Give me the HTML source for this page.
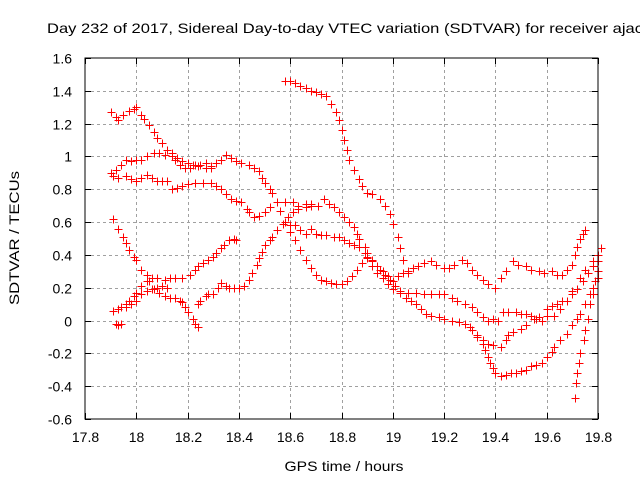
<!DOCTYPE html>
<html><head><meta charset="utf-8"><style>
body{margin:0;background:#fff;}
svg{display:block;font-family:"Liberation Sans",sans-serif;}
</style></head><body>
<svg id="chart" width="640" height="480" xmlns="http://www.w3.org/2000/svg">
<rect width="640" height="480" fill="#fff"/>
<text x="47" y="33" font-size="14" textLength="596" lengthAdjust="spacingAndGlyphs">Day 232 of 2017, Sidereal Day-to-day VTEC variation (SDTVAR) for receiver ajac</text>
<text transform="translate(19,238) rotate(-90)" text-anchor="middle" font-size="14" textLength="134" lengthAdjust="spacingAndGlyphs">SDTVAR / TECUs</text>
<text x="344" y="471" text-anchor="middle" font-size="14" textLength="119" lengthAdjust="spacingAndGlyphs">GPS time / hours</text>
<g id="grid"></g><g id="marks"></g>
<rect x="85" y="58" width="513" height="361" fill="none" stroke="#000" stroke-width="1"/>
</svg>
<script>
const xTicks=[17.8,18,18.2,18.4,18.6,18.8,19,19.2,19.4,19.6,19.8];
const xTickLabels=["17.8","18","18.2","18.4","18.6","18.8","19","19.2","19.4","19.6","19.8"];
const yTicks=[-0.6,-0.4,-0.2,0,0.2,0.4,0.6,0.8,1,1.2,1.4,1.6];
const yTickLabels=["-0.6","-0.4","-0.2","0","0.2","0.4","0.6","0.8","1","1.2","1.4","1.6"];
const trackA=[[17.90,1.27],[17.92,1.24],[17.93,1.22],[17.95,1.25],[17.97,1.28],[17.99,1.29],[18.00,1.30],[18.02,1.25],[18.03,1.23],[18.05,1.19],[18.07,1.15],[18.08,1.11],[18.10,1.08],[18.12,1.04],[18.14,1.00],[18.15,0.98],[18.17,0.95],[18.19,0.93],[18.21,0.93],[18.23,0.95],[18.25,0.95],[18.27,0.96],[18.29,0.94],[18.31,0.96]];
const trackB=[[17.90,0.90],[17.92,0.92],[17.94,0.95],[17.96,0.98],[17.98,0.97],[18.00,0.98],[18.02,0.98],[18.04,1.00],[18.07,1.02],[18.09,1.02],[18.11,1.01],[18.14,1.02],[18.16,0.99],[18.18,0.97],[18.20,0.96],[18.22,0.95],[18.24,0.94],[18.27,0.93],[18.29,0.93],[18.31,0.96],[18.33,0.98],[18.35,1.01],[18.37,0.99],[18.39,0.97],[18.41,0.96],[18.44,0.95],[18.46,0.93],[18.48,0.91],[18.49,0.87],[18.50,0.84],[18.52,0.80],[18.53,0.78],[18.55,0.72],[18.56,0.67],[18.58,0.60],[18.60,0.54],[18.62,0.49],[18.64,0.43],[18.66,0.37],[18.68,0.32],[18.70,0.28],[18.72,0.25],[18.74,0.24],[18.76,0.23],[18.78,0.22],[18.80,0.22],[18.82,0.24],[18.84,0.27],[18.86,0.31],[18.88,0.35],[18.90,0.38],[18.92,0.37],[18.94,0.33],[18.96,0.30],[18.98,0.27],[19.00,0.24],[19.02,0.27],[19.04,0.29],[19.06,0.30],[19.08,0.32],[19.10,0.33],[19.12,0.35],[19.15,0.36],[19.17,0.34],[19.20,0.32],[19.22,0.32],[19.24,0.34],[19.27,0.37],[19.29,0.35],[19.31,0.31],[19.33,0.28],[19.35,0.25],[19.37,0.22],[19.40,0.20],[19.42,0.26],[19.44,0.30],[19.47,0.36],[19.49,0.34],[19.52,0.33],[19.54,0.31],[19.57,0.30],[19.59,0.29],[19.62,0.30],[19.64,0.28],[19.66,0.28],[19.68,0.31],[19.70,0.34],[19.71,0.40],[19.72,0.45],[19.73,0.50],[19.74,0.53],[19.75,0.55]];
const trackC=[[17.91,0.88],[17.93,0.87],[17.96,0.88],[17.98,0.86],[18.00,0.85],[18.02,0.87],[18.04,0.89],[18.06,0.87],[18.08,0.85],[18.10,0.85],[18.12,0.85],[18.14,0.80],[18.16,0.81],[18.18,0.82],[18.20,0.83],[18.23,0.84],[18.26,0.84],[18.29,0.84],[18.31,0.82],[18.33,0.80],[18.35,0.77],[18.37,0.74],[18.39,0.73],[18.41,0.72],[18.43,0.68],[18.44,0.66],[18.46,0.63],[18.48,0.64],[18.50,0.66],[18.52,0.69],[18.55,0.72],[18.58,0.72],[18.61,0.72],[18.63,0.70],[18.66,0.69],[18.68,0.70],[18.71,0.70],[18.73,0.74],[18.75,0.71],[18.77,0.69],[18.79,0.66],[18.81,0.63],[18.83,0.60],[18.85,0.57],[18.86,0.53],[18.87,0.50],[18.89,0.45],[18.90,0.41],[18.92,0.33],[18.94,0.29],[18.96,0.26],[18.98,0.22],[19.00,0.19],[19.03,0.17],[19.06,0.17],[19.09,0.17],[19.12,0.16],[19.15,0.16],[19.18,0.16],[19.20,0.16],[19.23,0.14],[19.25,0.12],[19.28,0.10],[19.31,0.08],[19.33,0.05],[19.35,0.02],[19.37,0.00],[19.39,0.01],[19.41,0.00],[19.43,0.05],[19.45,0.05],[19.48,0.05],[19.50,0.04],[19.52,0.04],[19.54,0.03],[19.56,0.01],[19.58,0.00],[19.60,0.07],[19.62,0.09],[19.64,0.10],[19.66,0.12],[19.68,0.12],[19.70,0.16],[19.72,0.19],[19.74,0.24],[19.76,0.29],[19.78,0.33],[19.80,0.36]];
const trackD=[[18.58,0.60],[18.60,0.58],[18.62,0.58],[18.64,0.55],[18.66,0.53],[18.68,0.56],[18.70,0.53],[18.72,0.52],[18.74,0.52],[18.77,0.51],[18.79,0.51],[18.81,0.49],[18.83,0.47],[18.85,0.46],[18.87,0.45],[18.89,0.41],[18.90,0.39],[18.92,0.36],[18.95,0.31],[18.97,0.28],[18.99,0.25],[19.01,0.21],[19.03,0.18],[19.05,0.14],[19.07,0.12],[19.09,0.10],[19.11,0.07],[19.13,0.04],[19.15,0.03],[19.18,0.02],[19.20,0.01],[19.23,0.00],[19.26,-0.01],[19.28,-0.02],[19.30,-0.04],[19.31,-0.06],[19.33,-0.09],[19.35,-0.12],[19.37,-0.14],[19.39,-0.15],[19.42,-0.16],[19.44,-0.12],[19.45,-0.09],[19.47,-0.07],[19.50,-0.05],[19.52,-0.03],[19.55,0.01],[19.57,0.02],[19.60,0.03],[19.63,0.03],[19.65,0.07],[19.68,0.12],[19.70,0.18],[19.73,0.26],[19.75,0.31],[19.78,0.36],[19.80,0.40],[19.81,0.44]];
const trackE=[[19.31,-0.06],[19.33,-0.10],[19.35,-0.14],[19.36,-0.18],[19.37,-0.22],[19.38,-0.26],[19.39,-0.29],[19.40,-0.32],[19.42,-0.34],[19.44,-0.33],[19.46,-0.32],[19.48,-0.32],[19.50,-0.31],[19.52,-0.30],[19.54,-0.28],[19.56,-0.27],[19.58,-0.26],[19.60,-0.22],[19.62,-0.19],[19.63,-0.16],[19.65,-0.12],[19.68,-0.08],[19.70,-0.03],[19.72,0.01],[19.73,0.04],[19.75,0.10],[19.77,0.16],[19.78,0.20],[19.80,0.26]];
const trackF=[[19.71,-0.47],[19.715,-0.38],[19.72,-0.32],[19.725,-0.26],[19.73,-0.20],[19.745,-0.12],[19.75,-0.06],[19.76,0.01],[19.77,0.10],[19.78,0.16],[19.79,0.24],[19.80,0.30]];
const trackG=[[18.58,1.46],[18.60,1.46],[18.62,1.45],[18.64,1.43],[18.66,1.42],[18.68,1.40],[18.70,1.39],[18.72,1.38],[18.74,1.37],[18.76,1.32],[18.78,1.27],[18.79,1.22],[18.80,1.16],[18.81,1.10],[18.82,1.04],[18.83,0.98],[18.85,0.92],[18.87,0.86],[18.88,0.82],[18.90,0.78],[18.92,0.77],[18.95,0.74],[18.97,0.70],[18.99,0.65],[19.00,0.59],[19.02,0.51],[19.03,0.44],[19.04,0.37],[19.06,0.29]];
const trackH=[[17.91,0.62],[17.93,0.56],[17.95,0.51],[17.96,0.47],[17.97,0.43],[17.99,0.39],[18.00,0.37],[18.02,0.31],[18.04,0.28],[18.05,0.24],[18.07,0.19],[18.09,0.17],[18.11,0.15],[18.13,0.14],[18.15,0.14],[18.17,0.12],[18.18,0.11],[18.19,0.08],[18.20,0.05],[18.22,0.01],[18.23,-0.02],[18.24,-0.04]];
const trackI=[[17.91,0.06],[17.93,0.07],[17.94,0.08],[17.96,0.10],[17.97,0.12],[17.99,0.15],[18.00,0.17],[18.02,0.21],[18.04,0.24],[18.06,0.26],[18.08,0.26],[18.11,0.25],[18.13,0.26],[18.15,0.26],[18.18,0.26],[18.21,0.28],[18.23,0.31],[18.24,0.33],[18.26,0.35],[18.28,0.37],[18.30,0.39],[18.31,0.41],[18.33,0.44],[18.34,0.46],[18.36,0.49],[18.38,0.50],[18.39,0.49]];
const trackJ=[[17.92,-0.02],[17.93,-0.03],[17.94,-0.02],[17.96,0.08],[17.98,0.10],[18.00,0.12],[18.02,0.16],[18.04,0.18],[18.06,0.19],[18.08,0.20],[18.10,0.21],[18.12,0.20]];
const trackK=[[18.24,0.10],[18.25,0.12],[18.27,0.15],[18.28,0.16],[18.30,0.16],[18.32,0.20],[18.33,0.23],[18.35,0.21],[18.36,0.20],[18.38,0.20],[18.40,0.20],[18.42,0.21],[18.44,0.25],[18.45,0.29],[18.47,0.34],[18.48,0.38],[18.49,0.42],[18.50,0.46],[18.52,0.49],[18.53,0.51],[18.55,0.55],[18.57,0.59],[18.59,0.63],[18.61,0.66],[18.63,0.68],[18.66,0.71],[18.68,0.71]];
const series=[trackA,trackB,trackC,trackD,trackE,trackF,trackG,trackH,trackI,trackJ,trackK];

const X0=85,X1=598,Y0=419,Y1=58;
const xs=v=>X0+(v-17.8)/(19.8-17.8)*(X1-X0);
const ys=v=>Y0-(v+0.6)/(1.6+0.6)*(Y0-Y1);
const NS="http://www.w3.org/2000/svg";
const grid=document.getElementById('grid');
const marks=document.getElementById('marks');
function mk(tag,attrs,parent){const e=document.createElementNS(NS,tag);for(const k in attrs)e.setAttribute(k,attrs[k]);parent.appendChild(e);return e;}
xTicks.forEach((t,i)=>{
  const x=Math.round(xs(t))+0.5;
  if(i>0&&i<xTicks.length-1){const g=mk('line',{x1:x,x2:x,y1:Y1,y2:Y0,stroke:'#a0a0a0','stroke-dasharray':'3,3'},grid);
  
  }
  mk('line',{x1:x,x2:x,y1:Y0,y2:Y0-6,stroke:'#000'},grid);
  mk('line',{x1:x,x2:x,y1:Y1,y2:Y1+6,stroke:'#000'},grid);
  const tx=mk('text',{x:x,y:442,'text-anchor':'middle','font-size':14},grid);
  tx.textContent=xTickLabels[i];
  
  
});
yTicks.forEach((t,i)=>{
  const y=Math.round(ys(t))+0.5;
  if(i>0&&i<yTicks.length-1){const g=mk('line',{x1:X0,x2:X1,y1:y,y2:y,stroke:'#a0a0a0','stroke-dasharray':'3,3'},grid);
  
  }
  mk('line',{x1:X0,x2:X0+6,y1:y,y2:y,stroke:'#000'},grid);
  mk('line',{x1:X1,x2:X1-6,y1:y,y2:y,stroke:'#000'},grid);
  const tx=mk('text',{x:72,y:y+5,'text-anchor':'end','font-size':14},grid);
  tx.textContent=yTickLabels[i];
  
  
});
series.forEach((s,si)=>{
  const g=mk('g',{},marks);
  
  
  let d='';
  s.forEach(p=>{const x=Math.round(xs(p[0]))+0.5,y=Math.round(ys(p[1]))+0.5;
    d+=`M${x-4},${y}H${x+4}M${x},${y-4}V${y+4}`;});
  const path=mk('path',{d:d,stroke:'#ff0000','stroke-width':1,fill:'none'},g);
  
  
});
</script>
</body></html>
